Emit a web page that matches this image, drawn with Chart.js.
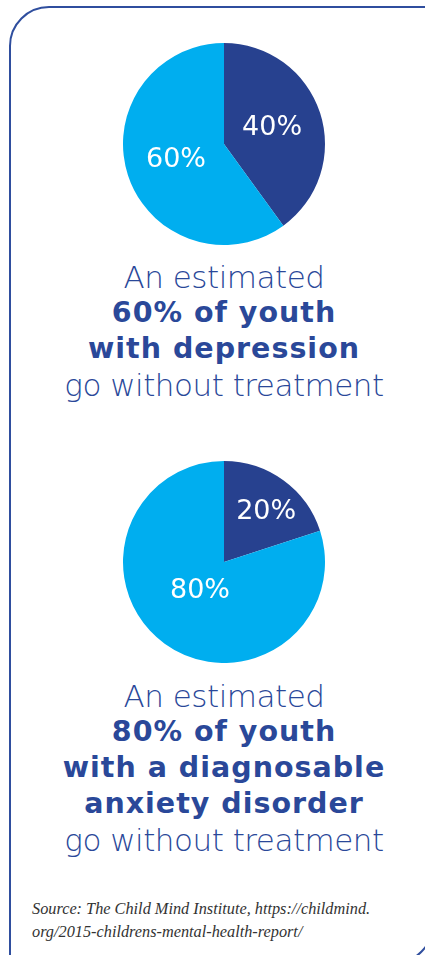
<!DOCTYPE html>
<html lang="en">
<head>
    <meta charset="UTF-8">
    <title>Youth mental health treatment gap</title>
    <script src="https://cdn.jsdelivr.net/npm/chart.js"></script>
    <style>
        html, body { margin: 0; padding: 0; background: #fff; }
        #page { position: relative; width: 425px; height: 955px; overflow: hidden; }
        #frame {
            position: absolute; left: 9px; top: 6px; width: 421px; height: 954px;
            border: 2px solid #2f4e9e; border-top-left-radius: 40px; border-bottom-right-radius: 40px;
        }
        .pie { position: absolute; left: 123px; width: 202px; height: 202px; }
        .blurb {
            position: absolute; left: 24px; width: 400px; text-align: center;
            color: #2a4899; font-family: "DejaVu Sans", sans-serif; line-height: 36px;
        }
        .blurb .lt { font-weight: 200; font-size: 31px; letter-spacing: -0.5px; height: 36px; white-space: nowrap; }
        .blurb .bd { font-weight: 700; font-size: 28.5px; letter-spacing: 1px; height: 36px; white-space: nowrap; }
        #source {
            position: absolute; left: 32px; top: 897px; width: 393px;
            font-family: "Liberation Serif", serif; font-style: italic; font-size: 16.3px;
            line-height: 23px; color: #333; white-space: nowrap;
        }
    </style>
</head>
<body>
<div id="page">
    <div id="frame"></div>

    <div class="pie" style="top:43px"><canvas id="pieDepression" width="202" height="202"></canvas></div>
    <div class="blurb" style="top:259px">
        <div class="lt">An estimated</div>
        <div class="bd">60% of youth</div>
        <div class="bd">with depression</div>
        <div class="lt">go without treatment</div>
    </div>

    <div class="pie" style="top:461px"><canvas id="pieAnxiety" width="202" height="202"></canvas></div>
    <div class="blurb" style="top:678px">
        <div class="lt">An estimated</div>
        <div class="bd">80% of youth</div>
        <div class="bd">with a diagnosable</div>
        <div class="bd">anxiety disorder</div>
        <div class="lt">go without treatment</div>
    </div>

    <div id="source">Source: The Child Mind Institute, https://childmind.<br>org/2015-childrens-mental-health-report/</div>
</div>

<script>
    // slice order: dark slice first, starting at 12 o'clock, clockwise
    const categories = ["Receive treatment", "Go without treatment"];
    const depressionValues = [40, 60];
    const anxietyValues = [20, 80];
    const sliceColors = ["#27418f", "#00aeef"];

    // draws "NN%" inside each slice
    const sliceLabels = {
        id: "sliceLabels",
        afterDatasetsDraw(chart, args, opts) {
            const ctx = chart.ctx;
            const meta = chart.getDatasetMeta(0);
            const values = chart.data.datasets[0].data;
            ctx.save();
            ctx.fillStyle = "#fff";
            ctx.font = "27px 'DejaVu Sans', sans-serif";
            ctx.textAlign = "center";
            ctx.textBaseline = "middle";
            meta.data.forEach((arc, i) => {
                const p = arc.getProps(["x", "y", "startAngle", "endAngle", "outerRadius"], true);
                const place = opts.place[i];
                const a = (p.startAngle + p.endAngle) / 2 + place.shift * Math.PI / 180;
                const d = p.outerRadius * place.dist;
                ctx.fillText(values[i] + "%", p.x + Math.cos(a) * d, p.y + Math.sin(a) * d);
            });
            ctx.restore();
        }
    };

    function makePie(id, values, place) {
        return new Chart(document.getElementById(id), {
            type: "pie",
            data: {
                labels: categories,
                datasets: [{ data: values, backgroundColor: sliceColors, borderWidth: 0 }]
            },
            options: {
                responsive: false,
                animation: false,
                events: [],
                layout: { padding: 0 },
                plugins: {
                    legend: { display: false },
                    tooltip: { enabled: false },
                    sliceLabels: { place: place }
                }
            },
            plugins: [sliceLabels]
        });
    }

    makePie("pieDepression", depressionValues, [{ dist: 0.5, shift: 0 }, { dist: 0.5, shift: 0 }]);
    makePie("pieAnxiety", anxietyValues, [{ dist: 0.65, shift: 4 }, { dist: 0.37, shift: 4 }]);
</script>
</body>
</html>
